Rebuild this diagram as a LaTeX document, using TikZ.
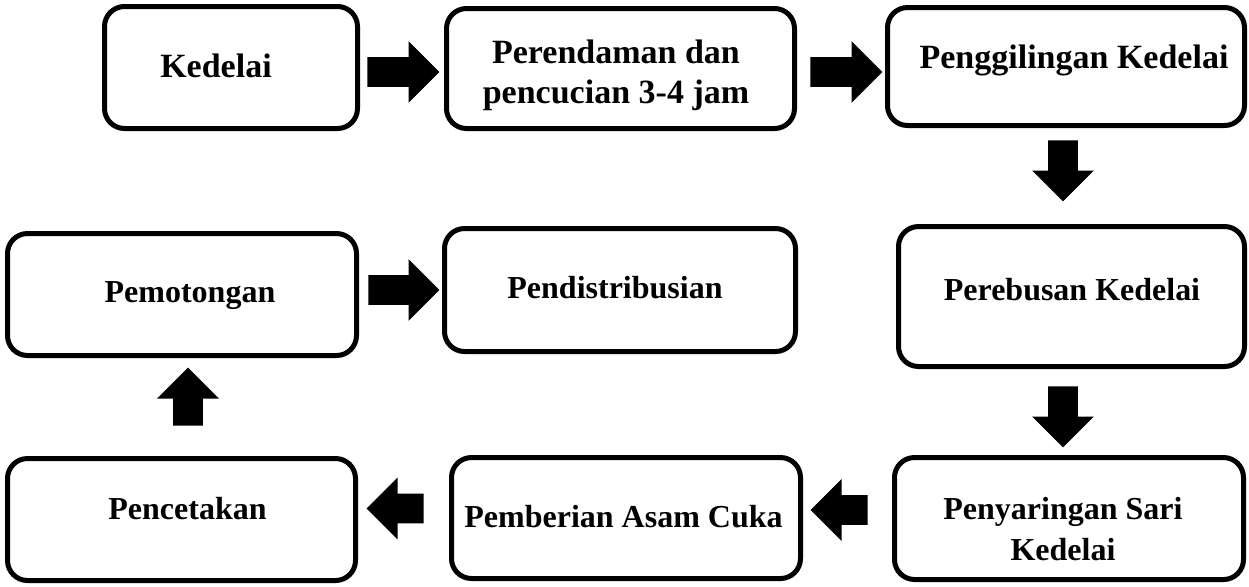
\documentclass[tikz,border=0pt]{standalone}
\usepackage{fontspec}
\setmainfont{Liberation Serif}
\usetikzlibrary{positioning,shapes.arrows}

\tikzset{
  stage/.style={draw, line width=2.5pt, rounded corners=10pt, inner sep=0pt},
  caption/.style={font=\bfseries\fontsize{16}{20.5}\selectfont, align=center},
  bigcaption/.style={caption, font=\bfseries\fontsize{17}{20}\selectfont},
  blockarrow/.style={single arrow, fill=black, draw=none, inner sep=7.25pt,
    minimum width=30.5pt, single arrow head extend=8pt, minimum height=29pt, anchor=tail}
}

\begin{document}
\begin{tikzpicture}[x=0.5pt, y=-0.5pt]
\useasboundingbox (0,0) rectangle (1249,586);
% boxes
\node[stage, minimum width=126.5pt, minimum height=61pt] (kedelai) at (231,67.5) {};
\node[stage, minimum width=174pt, minimum height=60pt] (rendam) at (620.5,68.5) {};
\node[stage, minimum width=178.5pt, minimum height=59pt] (giling) at (1066,66.5) {};
\node[stage, minimum width=173pt, minimum height=70pt] (rebus) at (1071.5,296.5) {};
\node[stage, minimum width=174.5pt, minimum height=61pt] (saring) at (1069,518.5) {};
\node[stage, minimum width=174.5pt, minimum height=60.5pt] (cuka) at (626,518) {};
\node[stage, minimum width=174pt, minimum height=61pt] (cetak) at (181.5,519.5) {};
\node[stage, minimum width=174.5pt, minimum height=61pt] (potong) at (182,294.5) {};
\node[stage, minimum width=175.5pt, minimum height=61.5pt] (distribusi) at (620,290) {};
% texts
\node[bigcaption, anchor=base] (t1) at (216,77) {Kedelai};
\node[bigcaption] (t2) at (616,75) {Perendaman dan\\pencucian 3-4 jam};
\node[bigcaption, anchor=base] (t3) at (1074,68) {Penggilingan Kedelai};
\node[caption, anchor=base] (t4) at (1072,300) {Perebusan Kedelai};
\node[caption] (t5) at (1063,529) {Penyaringan Sari\\Kedelai};
\node[caption, anchor=base] (t6) at (623.5,527) {Pemberian Asam Cuka};
\node[caption, anchor=base] (t7) at (187.5,519) {Pencetakan};
\node[caption, anchor=base] (t8) at (190,302) {Pemotongan};
\node[caption, anchor=base] (t9) at (615,298) {Pendistribusian};
% arrows
\node[blockarrow, minimum height=36pt] (a1) at (367,72) {};
\node[blockarrow, minimum height=36pt] (a2) at (810,72) {};
\node[blockarrow, rotate=-90, minimum height=30.5pt] (a3) at (1063,140) {};
\node[blockarrow, rotate=-90, minimum height=30.5pt] (a4) at (1063,386) {};
\node[blockarrow, rotate=180, minimum height=28.5pt] (a5) at (868,510) {};
\node[blockarrow, rotate=180, minimum height=28.5pt] (a6) at (424,508.5) {};
\node[blockarrow, rotate=90] (a7) at (188,426) {};
\node[blockarrow, minimum height=35.5pt] (a8) at (368,290) {};
\end{tikzpicture}
\end{document}
